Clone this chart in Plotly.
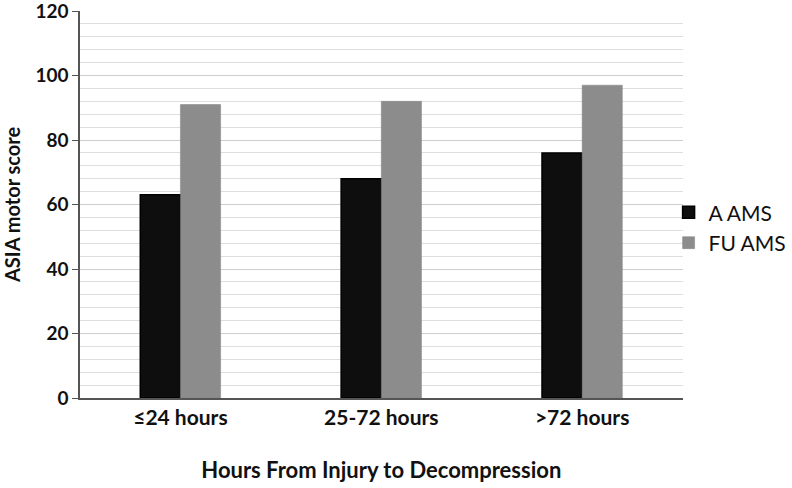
import plotly.graph_objects as go

# 数据
categories = ["≤24 hours", "25-72 hours", ">72 hours"]
a_ams = [63, 68, 76]
fu_ams = [91, 92, 97]

FONT = "Lato, 'Open Sans', Arial, sans-serif"

fig = go.Figure()
fig.add_trace(go.Bar(
    x=categories, y=a_ams, name="A AMS",
    marker=dict(color="#0e0e0e", line=dict(color="#000000", width=1.5)),
))
fig.add_trace(go.Bar(
    x=categories, y=fu_ams, name="FU AMS",
    marker=dict(color="#8c8c8c", line=dict(color="#808080", width=0.5)),
))

# 图例会挤压右边距：图例贴右边，绘图区 domain 稍大于图例 x，使绘图区右端落在 ~683px
fig.update_layout(
    width=792, height=488,
    barmode="group", bargap=0.6, bargroupgap=0,
    paper_bgcolor="white", plot_bgcolor="white",
    margin=dict(l=80, r=0, t=11, b=90),
    font=dict(family=FONT, color="#111111"),
    legend=dict(
        x=0.9, y=0.44, xanchor="left", yanchor="middle",
        bgcolor="rgba(0,0,0,0)",
        font=dict(size=21, color="#111111"),
        itemwidth=30,
    ),
)
fig.update_xaxes(
    automargin=False,
    domain=[0, 0.9214],
    showline=True, linecolor="#555555", linewidth=1.5,
    tickfont=dict(size=21, family=FONT, weight="bold"),
    title=dict(text="Hours From Injury to Decompression",
               font=dict(size=22, family=FONT, weight="bold"), standoff=35),
    ticks="",
)
fig.update_yaxes(
    automargin=False,
    range=[0, 120], dtick=20,
    ticklabeloverflow="allow",
    showline=True, linecolor="#555555", linewidth=1.5,
    ticks="outside", ticklen=6, tickcolor="#555555",
    showgrid=True, gridcolor="#cfcfcf", gridwidth=1,
    minor=dict(dtick=4, showgrid=True, gridcolor="#dedede", gridwidth=1),
    tickfont=dict(size=19, family=FONT, weight="bold"),
    title=dict(text="ASIA motor score",
               font=dict(size=20, family=FONT, weight="bold"), standoff=16),
    zeroline=False,
)

# 去掉页面 body 的默认 8px 边距
fig.write_html("out.html", config={"displayModeBar": False},
               post_script="document.body.style.margin='0';")
